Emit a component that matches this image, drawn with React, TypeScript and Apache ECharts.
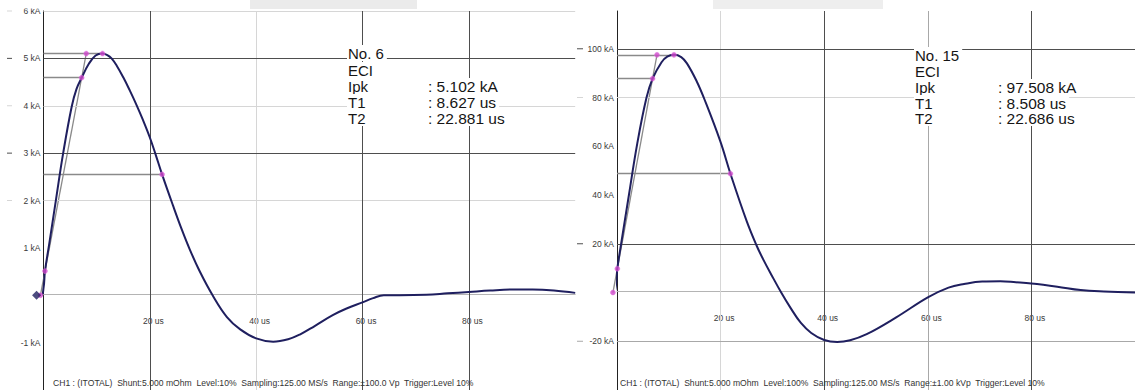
import React, { useEffect, useRef } from 'react';
import * as echarts from 'echarts';

// ---------- Left capture (No. 6) ----------
const leftTime = [-6.9, -0.5, 0, 0.28, 1.1, 2.35, 3.7, 5.3, 6.2, 7.18, 8.5, 9.8, 11.1, 12.0, 12.8, 13.8, 15.0, 16.2, 17.4, 18.7, 20, 21, 22.3, 24.4, 26, 27.5, 29.4, 31.8, 34.5, 37, 40, 43.2, 46, 48.2, 51, 54.4, 57, 60, 62, 64, 67, 72, 76, 80, 84, 88, 92, 96, 100];
const leftCurrent = [0, 0, 0.15, 0.51, 1.1, 2.02, 3.0, 3.98, 4.35, 4.59, 4.88, 5.06, 5.102, 5.07, 5.0, 4.84, 4.6, 4.33, 4.04, 3.7, 3.33, 3.0, 2.551, 1.88, 1.39, 0.97, 0.5, 0, -0.46, -0.72, -0.91, -0.98, -0.93, -0.83, -0.65, -0.42, -0.28, -0.15, -0.06, 0, 0, 0.01, 0.04, 0.07, 0.1, 0.12, 0.12, 0.1, 0.05];
// markers: virtual origin, 10 %, 90 %, 100 % on front line, peak, 50 % on tail
const leftMarkTime = [-0.58, 0.28, 7.18, 8.04, 11.1, 22.3];
const leftMarkCurrent = [0, 0.51, 4.592, 5.102, 5.102, 2.551];
const leftTrigger = [[-1.3, 0]];
const leftYLabels = [-1, 1, 2, 3, 4, 5, 6];
const leftXLabels = [20, 40, 60, 80];
const leftDarkY = [3, 5];
const leftLightY = [2, 4, 6];
const leftDarkX = [20, 60, 80];
const leftMidX: number[] = [];
const leftLightX = [40];
const leftInfoNames = ['No. 6', 'ECI', 'Ipk', 'T1', 'T2'];
const leftInfoValues = ['', '', ': 5.102 kA', ': 8.627 us', ': 22.881 us'];
const leftStatus = 'CH1 : (ITOTAL)  Shunt:5.000 mOhm  Level:10%  Sampling:125.00 MS/s  Range:±100.0 Vp  Trigger:Level 10%';

// ---------- Right capture (No. 15) ----------
const rightTime = [-8, -0.8, -0.3, 0.06, 0.8, 2.3, 3.9, 5.7, 6.87, 8.6, 9.7, 11.0, 12.4, 13.5, 15.4, 16.8, 19.9, 21.9, 25, 26.9, 28.2, 29.9, 31.7, 33.5, 35.5, 37.5, 40, 42.5, 45, 48.2, 53.9, 60, 64, 67, 70.5, 74, 77, 80, 85, 89.5, 94, 100];
const rightCurrent = [0, 0, 1.5, 9.75, 20, 40, 61, 80, 87.76, 94.5, 96.8, 97.5, 96.6, 94.0, 86.6, 79.7, 62.3, 48.75, 29.5, 19.5, 13.7, 6.9, 0, -6.3, -12.5, -16.6, -19.5, -20.3, -19.6, -17.1, -10.2, -2, 2, 3.5, 4.5, 4.6, 4.2, 3.7, 2.4, 1, 0.4, 0];
const rightMarkTime = [-0.79, 0.06, 6.87, 7.72, 11.0, 21.9];
const rightMarkCurrent = [0, 9.751, 87.757, 97.508, 97.508, 48.754];
const rightYLabels = [-20, 20, 40, 60, 80, 100];
const rightXLabels = [20, 40, 60, 80];
const rightDarkY = [20, 100];
const rightMidY = [-20];
const rightLightY = [80];
const rightDarkX = [40, 80];
const rightMidX = [60];
const rightLightX = [20];
const rightInfoNames = ['No. 15', 'ECI', 'Ipk', 'T1', 'T2'];
const rightInfoValues = ['', '', ': 97.508 kA', ': 8.508 us', ': 22.686 us'];
const rightStatus = 'CH1 : (ITOTAL)  Shunt:5.000 mOhm  Level:100%  Sampling:125.00 MS/s  Range:±1.00 kVp  Trigger:Level 10%';

const FONT = '"Liberation Sans", Arial, Helvetica, sans-serif';
const NAVY = '#1f1f5f';
const DARK = '#4e4e4e';
const MID = '#a8a8a8';
const ZERO = '#b4b4b4';
const LIGHT = '#d6d6d6';
const GRAYLINE = '#8a8a8a';
const MAGENTA = '#d048cc';

function pairs(t: number[], v: number[]) {
  return t.map((x, i) => [x, v[i]]);
}

function segments(t: number[], v: number[]) {
  return [
    { coords: [[0, v[4]], [t[4], v[4]]] },
    { coords: [[0, v[2]], [t[2], v[2]]] },
    { coords: [[0, v[5]], [t[5], v[5]]] },
    { coords: [[t[0], v[0]], [t[3], v[3]]] },
  ];
}

function gridLines(dy: number[], my: number[], ly: number[], dx: number[], mx: number[], lx: number[]) {
  const item = (key: 'xAxis' | 'yAxis', val: number, color: string) => ({ [key]: val, lineStyle: { color, width: 1, type: 'solid' } });
  return [
    ...ly.map((v) => item('yAxis', v, LIGHT)),
    ...lx.map((v) => item('xAxis', v, LIGHT)),
    ...my.map((v) => item('yAxis', v, MID)),
    ...mx.map((v) => item('xAxis', v, MID)),
    ...dy.map((v) => item('yAxis', v, DARK)),
    ...dx.map((v) => item('xAxis', v, DARK)),
  ];
}

function yLabel(labels: number[], dark: number[], mid: number[], light: number[], tw: number, dw: number) {
  return {
    margin: 3,
    formatter: (v: number) => {
      if (!labels.includes(v)) return '';
      const k = dark.includes(v) ? 'dk' : mid.includes(v) ? 'md' : light.includes(v) ? 'lt' : 'no';
      return `{${k}|}{t|${v} kA}`;
    },
    rich: {
      dk: { width: dw, height: 1, backgroundColor: DARK, verticalAlign: 'middle' },
      md: { width: dw, height: 1, backgroundColor: MID, verticalAlign: 'middle' },
      lt: { width: dw, height: 1, backgroundColor: LIGHT, verticalAlign: 'middle' },
      no: { width: dw, height: 1, verticalAlign: 'middle' },
      t: { width: tw, align: 'right', fontSize: 8.5, color: '#3a3a3a', fontFamily: FONT },
    },
  };
}

function xLabel(labels: number[]) {
  return {
    margin: 22,
    fontSize: 8.5,
    color: '#3a3a3a',
    fontFamily: FONT,
    padding: [0, 0, 0, 7],
    showMinLabel: false,
    showMaxLabel: false,
    formatter: (v: number) => (labels.includes(v) ? `${v} us` : ''),
  };
}

function infoRows(names: string[], values: string[], x: number, ys: number[], w: number) {
  return names.map((n, i) => ({
    type: 'text',
    z: 50,
    x,
    y: ys[i],
    style: {
      text: values[i] ? `{a|${n}}{b|${values[i]}}` : `{a0|${n}}`,
      rich: {
        a: { width: w, fontSize: 15, fontFamily: FONT, fill: '#151515', color: '#151515' },
        a0: { fontSize: 15, fontFamily: FONT, fill: '#151515', color: '#151515' },
        b: { fontSize: 15.5, fontFamily: FONT, fill: '#151515', color: '#151515' },
      },
      font: `15px ${FONT}`,
      fill: '#151515',
      backgroundColor: '#ffffff',
      padding: [0, 3, 0, 1],
      verticalAlign: 'middle',
      lineHeight: 16,
    },
  }));
}

export default function App() {
  const ref = useRef<HTMLDivElement>(null);
  useEffect(() => {
    if (!ref.current) return;
    const chart = echarts.init(ref.current, undefined, { renderer: 'svg' });
    const mkSeries = (idx: number, t: number[], v: number[], mt: number[], mv: number[], gl: any[]) => [
      {
        type: 'line',
        xAxisIndex: idx,
        yAxisIndex: idx,
        data: [],
        z: 1,
        silent: true,
        markLine: { silent: true, symbol: ['none', 'none'], label: { show: false }, data: gl, animation: false },
      },
      {
        type: 'lines',
        coordinateSystem: 'cartesian2d',
        xAxisIndex: idx,
        yAxisIndex: idx,
        clip: false,
        z: 3,
        silent: true,
        lineStyle: { color: GRAYLINE, width: 1.3, opacity: 1 },
        data: segments(mt, mv),
      },
      {
        type: 'line',
        xAxisIndex: idx,
        yAxisIndex: idx,
        data: pairs(t, v),
        showSymbol: false,
        smooth: 0.4,
        clip: false,
        z: 5,
        lineStyle: { color: NAVY, width: 2 },
      },
      {
        type: 'scatter',
        xAxisIndex: idx,
        yAxisIndex: idx,
        data: pairs(mt, mv),
        symbolSize: 5,
        clip: false,
        z: 6,
        itemStyle: { color: MAGENTA, borderColor: '#e070e0', borderWidth: 0.5 },
      },
    ];
    const xAx = (gi: number, labels: number[], offset: number) => ({
      gridIndex: gi,
      type: 'value',
      min: 0,
      max: 100,
      interval: 20,
      position: 'bottom',
      offset,
      axisLine: { show: true, onZero: false, lineStyle: { color: ZERO, width: 1 } },
      axisTick: { show: false },
      splitLine: { show: false },
      axisLabel: xLabel(labels),
    });
    chart.setOption({
      animation: false,
      backgroundColor: '#ffffff',
      grid: [
        { left: 43.5, top: 11, width: 531.7, height: 381.6 },
        { left: 617, top: 11, width: 525, height: 382.5 },
      ],
      xAxis: [xAx(0, leftXLabels, -95.4), xAx(1, rightXLabels, -98.4)],
      yAxis: [
        { gridIndex: 0, type: 'value', min: -2, max: 6, interval: 1, axisLine: { show: true, onZero: false, lineStyle: { color: '#222', width: 1 } }, axisTick: { show: false }, splitLine: { show: false }, axisLabel: yLabel(leftYLabels, leftDarkY, [], leftLightY, 28.5, 5) },
        { gridIndex: 1, type: 'value', min: -40, max: 115.5, interval: 20, axisLine: { show: true, onZero: false, lineStyle: { color: '#222', width: 1 } }, axisTick: { show: false }, splitLine: { show: false }, axisLabel: yLabel(rightYLabels, rightDarkY, rightMidY, rightLightY, 31, 6) },
      ],
      series: [
        ...mkSeries(0, leftTime, leftCurrent, leftMarkTime, leftMarkCurrent, gridLines(leftDarkY, [], leftLightY, leftDarkX, leftMidX, leftLightX)),
        ...mkSeries(1, rightTime, rightCurrent, rightMarkTime, rightMarkCurrent, gridLines(rightDarkY, rightMidY, rightLightY, rightDarkX, rightMidX, rightLightX)),
        {
          type: 'scatter',
          xAxisIndex: 0,
          yAxisIndex: 0,
          data: leftTrigger,
          symbol: 'diamond',
          symbolSize: [9, 9],
          clip: false,
          z: 7,
          itemStyle: { color: NAVY },
        },
      ],
      graphic: [
        { type: 'rect', z: 40, shape: { x: 0, y: 0, width: 1135, height: 8.5 }, style: { fill: '#ffffff' } },
        { type: 'rect', z: 41, shape: { x: 250, y: 0, width: 167, height: 9 }, style: { fill: '#ebebeb' } },
        { type: 'rect', z: 41, shape: { x: 713, y: 0, width: 170, height: 9 }, style: { fill: '#eeeeee' } },
        ...infoRows(leftInfoNames, leftInfoValues, 347, [53, 70, 86, 102, 118], 80),
        ...infoRows(rightInfoNames, rightInfoValues, 914, [55, 71, 87, 103, 118], 83),
        { type: 'text', z: 50, x: 53, y: 383, style: { text: leftStatus, font: `8.6px ${FONT}`, fill: '#333', verticalAlign: 'middle' } },
        { type: 'text', z: 50, x: 620, y: 383, style: { text: rightStatus, font: `8.6px ${FONT}`, fill: '#333', verticalAlign: 'middle' } },
      ],
    });
    return () => chart.dispose();
  }, []);
  return <div ref={ref} style={{ position: 'fixed', left: 0, top: 0, width: 1135, height: 390, background: '#fff' }} />;
}
